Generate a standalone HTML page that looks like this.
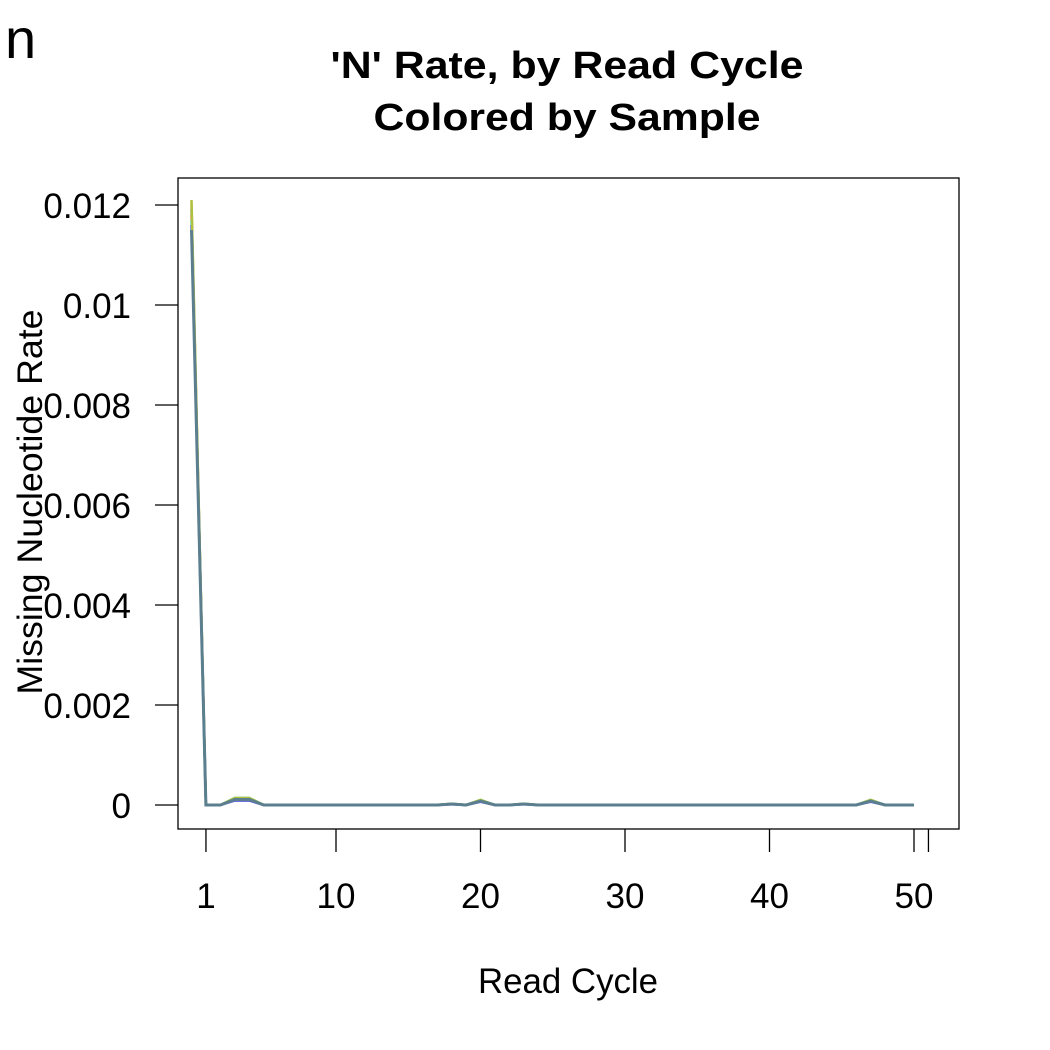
<!DOCTYPE html>
<html><head><meta charset="utf-8"><style>
body{margin:0;background:#fff}
svg{display:block;font-family:"Liberation Sans",Arial,sans-serif}
</style></head><body>
<svg id="chart" width="1050" height="1050" viewBox="0 0 1050 1050">
<text x="5" y="58" font-size="56">n</text>
<text x="567" y="78" font-size="38" font-weight="bold" text-anchor="middle" textLength="473" lengthAdjust="spacingAndGlyphs">'N' Rate, by Read Cycle</text>
<text x="567" y="130" font-size="38" font-weight="bold" text-anchor="middle" textLength="387" lengthAdjust="spacingAndGlyphs">Colored by Sample</text>
<rect x="178" y="178" width="781" height="651" fill="none" stroke="#000" stroke-width="1.3"/>
<g id="yaxis"></g>
<g id="xaxis"></g>
<g id="series"></g>
<text x="568" y="993" font-size="35" text-anchor="middle" textLength="180" lengthAdjust="spacingAndGlyphs">Read Cycle</text>
<text transform="translate(42,502) rotate(-90)" font-size="35" text-anchor="middle" textLength="385" lengthAdjust="spacingAndGlyphs">Missing Nucleotide Rate</text>
</svg>
<script>
const yTicks=[0,0.002,0.004,0.006,0.008,0.01,0.012];
const yTickLabels=["0","0.002","0.004","0.006","0.008","0.01","0.012"];
const xTicks=[1,10,20,30,40,50,51];
const xTickLabels=["1","10","20","30","40","50",""];
const cycles=[];for(let i=0;i<=50;i++)cycles.push(i);
const sampleColors=["#d8e04a","#e07ad8","#6fd06f","#e0804a","#4ae0d0","#5a5ae0","#b0c040","#5b7f8f"];
const baseSeries=[0.012,0,0,0.00011,0.00011,0,0,0,0,0,0,0,0,0,0,0,0,0,0.00002,0,0.00008,0,0,0.00002,0,0,0,0,0,0,0,0,0,0,0,0,0,0,0,0,0,0,0,0,0,0,0,0.00008,0,0,0];
const peakValues=[0.01205,0.01195,0.0119,0.0118,0.0117,0.0116,0.0121,0.0115];
const bumpScale=[1.2,1.0,1.3,0.9,1.1,0.8,1.25,1.0];
const X=v=>191.5+v*14.45;
const Y=v=>805-v*50000;
const NS="http://www.w3.org/2000/svg";
const yg=document.getElementById('yaxis'),xg=document.getElementById('xaxis'),sg=document.getElementById('series');
function mk(t,a,p){const e=document.createElementNS(NS,t);for(const k in a)e.setAttribute(k,a[k]);p.appendChild(e);return e;}
yTicks.forEach((v,i)=>{
 const l=mk('line',{x1:155,x2:178,y1:Y(v),y2:Y(v),stroke:'#000','stroke-width':1.3},yg);
 
 
 const t=mk('text',{x:131,y:Y(v)+13,'font-size':35,'text-anchor':'end'},yg);t.textContent=yTickLabels[i];
 
 
});
xTicks.forEach((v,i)=>{
 const l=mk('line',{x1:X(v),x2:X(v),y1:829,y2:852,stroke:'#000','stroke-width':1.3},xg);
 
 
 if(xTickLabels[i]){const t=mk('text',{x:X(v),y:908,'font-size':35,'text-anchor':'middle'},xg);t.textContent=xTickLabels[i];
 
 }
});
sampleColors.forEach((c,s)=>{
 const pts=cycles.map((cy,i)=>{const v=i===0?peakValues[s]:baseSeries[i]*bumpScale[s];return X(cy).toFixed(1)+','+Y(v).toFixed(1);});
 const p=mk('polyline',{points:pts.join(' '),fill:'none',stroke:c,'stroke-width':s===7?3:2.5},sg);
 
 
});
</script>
</body></html>
